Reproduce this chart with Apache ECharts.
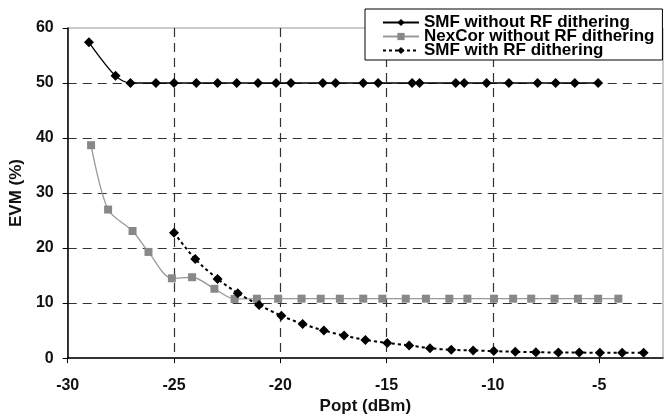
<!DOCTYPE html>
<html>
<head>
<meta charset="utf-8">
<script src="https://cdn.jsdelivr.net/npm/echarts@6/dist/echarts.min.js"></script>
<style>
html,body{margin:0;padding:0;background:#fff;}
#chart{width:667px;height:420px;}
</style>
</head>
<body>
<div id="chart"></div>
<script>
// ---- Data ----
const seriesNames = ['SMF without RF dithering', 'NexCor without RF dithering', 'SMF with RF dithering'];

const smfNoX = [-29, -27.75, -27.05, -25.85, -25, -23.95, -22.95, -22.05, -21.05, -20.2, -19.5, -18, -17.4, -16.1, -15.4, -13.8, -13.45, -11.75, -11.35, -10.3, -9.25, -7.9, -7.05, -6.15, -5.05];
const smfNoY = [57.4, 51.3, 50, 50, 50, 50, 50, 50, 50, 50, 50, 50, 50, 50, 50, 50, 50, 50, 50, 50, 50, 50, 50, 50, 50];

const nexX = [-28.9, -28.1, -26.95, -26.2, -25.1, -24.15, -23.1, -22.15, -21.1, -20.1, -19.0, -18.1, -17.2, -16.1, -15.2, -14.1, -13.15, -12.05, -11.2, -9.95, -9.05, -8.2, -7.1, -6.0, -5.05, -4.1];
const nexY = [38.7, 27.0, 23.1, 19.3, 14.5, 14.7, 12.6, 10.75, 10.8, 10.8, 10.8, 10.8, 10.8, 10.8, 10.8, 10.8, 10.8, 10.8, 10.8, 10.8, 10.8, 10.8, 10.8, 10.8, 10.8, 10.8];

const smfRfX = [-25, -24, -22.95, -22, -21, -19.95, -18.95, -17.95, -17, -16, -14.97, -13.94, -12.96, -11.96, -10.93, -9.96, -8.95, -7.98, -6.92, -5.94, -4.97, -3.92, -2.91];
const smfRfY = [22.8, 18.0, 14.4, 11.8, 9.65, 7.7, 6.2, 5.0, 4.1, 3.3, 2.75, 2.3, 1.8, 1.5, 1.4, 1.27, 1.15, 1.08, 1.0, 1.0, 0.96, 0.96, 0.98];

const xTicks = [-30, -25, -20, -15, -10, -5];
const yTicks = [0, 10, 20, 30, 40, 50, 60];
const xName = 'Popt (dBm)';
const yName = 'EVM (%)';

function pairs(xs, ys) { return xs.map((x, i) => [x, ys[i]]); }

const FONT = '"Liberation Sans", Arial, sans-serif';
const gridLine = { show: true, lineStyle: { color: '#333', width: 1.2, type: [9, 6] }, showMinLine: false, showMaxLine: false };

const chart = echarts.init(document.getElementById('chart'), null, { renderer: 'canvas' });
chart.setOption({
  animation: false,
  backgroundColor: '#fff',
  grid: { left: 65, right: 4, top: 28, bottom: 61, show: true, borderColor: '#999', borderWidth: 1, backgroundColor: 'transparent' },
  legend: {
    orient: 'vertical',
    left: 365, top: 9,
    padding: [5, 8, 1, 17],
    itemGap: -3,
    itemWidth: 36, itemHeight: 9,
    backgroundColor: '#fff',
    borderColor: '#000', borderWidth: 1,
    z: 10,
    textStyle: { fontFamily: FONT, fontWeight: 'bold', fontSize: 17, lineHeight: 14, color: '#000' },
    data: seriesNames
  },
  xAxis: {
    type: 'value', min: -30, max: -2, interval: 5,
    name: xName, nameLocation: 'middle', nameGap: 38,
    nameTextStyle: { fontFamily: FONT, fontWeight: 'bold', fontSize: 17, color: '#111' },
    axisLine: { show: true, lineStyle: { color: '#000', width: 1.5 } },
    axisTick: { show: true, inside: false, length: 5, lineStyle: { color: '#000' }, customValues: xTicks },
    axisLabel: { fontFamily: FONT, fontWeight: 'bold', fontSize: 16, color: '#111', margin: 19, customValues: xTicks },
    splitLine: gridLine
  },
  yAxis: {
    type: 'value', min: 0, max: 60, interval: 10,
    name: yName, nameLocation: 'middle', nameGap: 31, nameRotate: 90,
    nameTextStyle: { fontFamily: FONT, fontWeight: 'bold', fontSize: 17, color: '#111' },
    axisLine: { show: true, lineStyle: { color: '#000', width: 1.5 } },
    axisTick: { show: true, inside: false, length: 5, lineStyle: { color: '#000' }, customValues: yTicks },
    axisLabel: { fontFamily: FONT, fontWeight: 'bold', fontSize: 16, color: '#111', margin: 14, customValues: yTicks },
    splitLine: gridLine
  },
  series: [
    {
      name: seriesNames[0], type: 'line', smooth: 0.3,
      data: pairs(smfNoX, smfNoY),
      symbol: 'diamond', symbolSize: 10,
      itemStyle: { color: '#000' },
      lineStyle: { color: '#000', width: 1.3 }
    },
    {
      name: seriesNames[1], type: 'line', smooth: 0.3,
      data: pairs(nexX, nexY),
      symbol: 'rect', symbolSize: 8,
      itemStyle: { color: '#888' },
      lineStyle: { color: '#999', width: 1.3 }
    },
    {
      name: seriesNames[2], type: 'line', smooth: 0.3,
      data: pairs(smfRfX, smfRfY),
      symbol: 'diamond', symbolSize: 10,
      itemStyle: { color: '#000' },
      lineStyle: { color: '#000', width: 2, type: [3, 3] }
    }
  ]
});
</script>
</body>
</html>
